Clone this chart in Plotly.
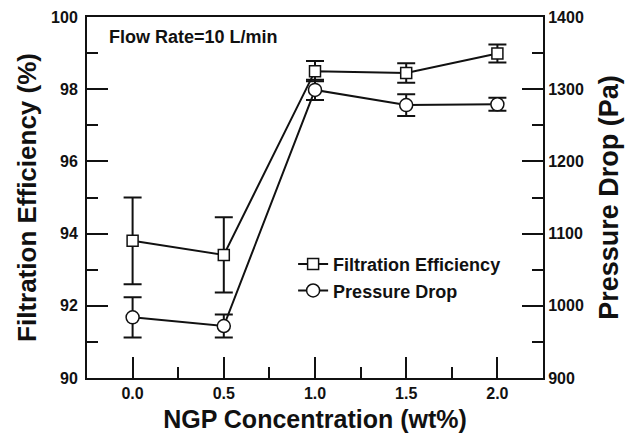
import plotly.graph_objects as go

conc = [0.0, 0.5, 1.0, 1.5, 2.0]
eff = [93.8, 93.41, 98.5, 98.45, 98.99]
eff_err = [1.2, 1.04, 0.28, 0.27, 0.25]
dp = [984, 972, 1299, 1278, 1279]
dp_err = [28, 16, 14, 15, 9]

FONT = "Liberation Sans, Arial, sans-serif"
INK = "#111111"

fig = go.Figure()
fig.add_trace(go.Scatter(
    x=conc, y=eff, name="Filtration Efficiency", legendgroup="a",
    mode="lines+markers",
    line=dict(color=INK, width=2),
    marker=dict(symbol="square", size=11, color="white", line=dict(color=INK, width=1.5)),
    error_y=dict(type="data", array=eff_err, color=INK, thickness=2, width=9),
    yaxis="y"))
fig.add_trace(go.Scatter(
    x=conc, y=dp, name="Pressure Drop", legendgroup="b",
    mode="lines+markers",
    line=dict(color=INK, width=2),
    marker=dict(symbol="circle", size=13, color="white", line=dict(color=INK, width=1.5)),
    error_y=dict(type="data", array=dp_err, color=INK, thickness=2, width=9),
    yaxis="y2"))

tickfont = dict(family=FONT, size=16, color=INK, weight="bold")

# page body has an 8px default margin, so the figure is sized/offset to compensate
fig.update_layout(
    width=627, height=427,
    margin=dict(l=79, r=92, t=9, b=57),
    plot_bgcolor="white", paper_bgcolor="white",
    font=dict(family=FONT, color=INK),
    showlegend=True,
    legend=dict(x=0.452, y=0.366, xanchor="left", yanchor="top",
                font=dict(family=FONT, size=18, color=INK, weight="bold"),
                bgcolor="rgba(0,0,0,0)", tracegroupgap=0, traceorder="grouped"),
    xaxis=dict(range=[-0.25, 2.25], tick0=0, dtick=0.5, tickformat=".1f", automargin=False,
               ticks="inside", ticklen=21, tickwidth=2, tickcolor=INK,
               showline=True, linewidth=2, linecolor=INK, mirror=True,
               showgrid=False, zeroline=False, tickfont=tickfont,
               minor=dict(ticks="inside", ticklen=11, tick0=0, dtick=0.25, tickwidth=2, tickcolor=INK, showgrid=False),
               title=dict(text="NGP Concentration (wt%)", font=dict(family=FONT, size=25, color=INK, weight="bold"), standoff=9)),
    yaxis=dict(range=[90, 100], tick0=90, dtick=2, automargin=False, ticklabelstandoff=4,
               ticks="inside", ticklen=21, tickwidth=2, tickcolor=INK,
               showline=True, linewidth=2, linecolor=INK,
               showgrid=False, zeroline=False, tickfont=tickfont,
               minor=dict(ticks="inside", ticklen=11, tick0=90, dtick=1, tickwidth=2, tickcolor=INK, showgrid=False),
               title=dict(text="Filtration Efficiency (%)", font=dict(family=FONT, size=26, color=INK, weight="bold"), standoff=7)),
    yaxis2=dict(range=[900, 1400], tick0=900, dtick=100, overlaying="y", side="right", automargin=False,
                ticks="inside", ticklen=21, tickwidth=2, tickcolor=INK,
                showline=True, linewidth=2, linecolor=INK,
                showgrid=False, zeroline=False, tickfont=tickfont,
                minor=dict(ticks="inside", ticklen=11, tick0=900, dtick=50, tickwidth=2, tickcolor=INK, showgrid=False),
                title=dict(text="Pressure Drop (Pa)", font=dict(family=FONT, size=27, color=INK, weight="bold"), standoff=16)),
    annotations=[dict(text="Flow Rate=10 L/min", xref="paper", yref="paper",
                      x=0.043, y=0.944, xanchor="left", yanchor="middle", showarrow=False,
                      font=dict(family=FONT, size=18, color=INK, weight="bold"))],
)

fig.write_html("out.html")
